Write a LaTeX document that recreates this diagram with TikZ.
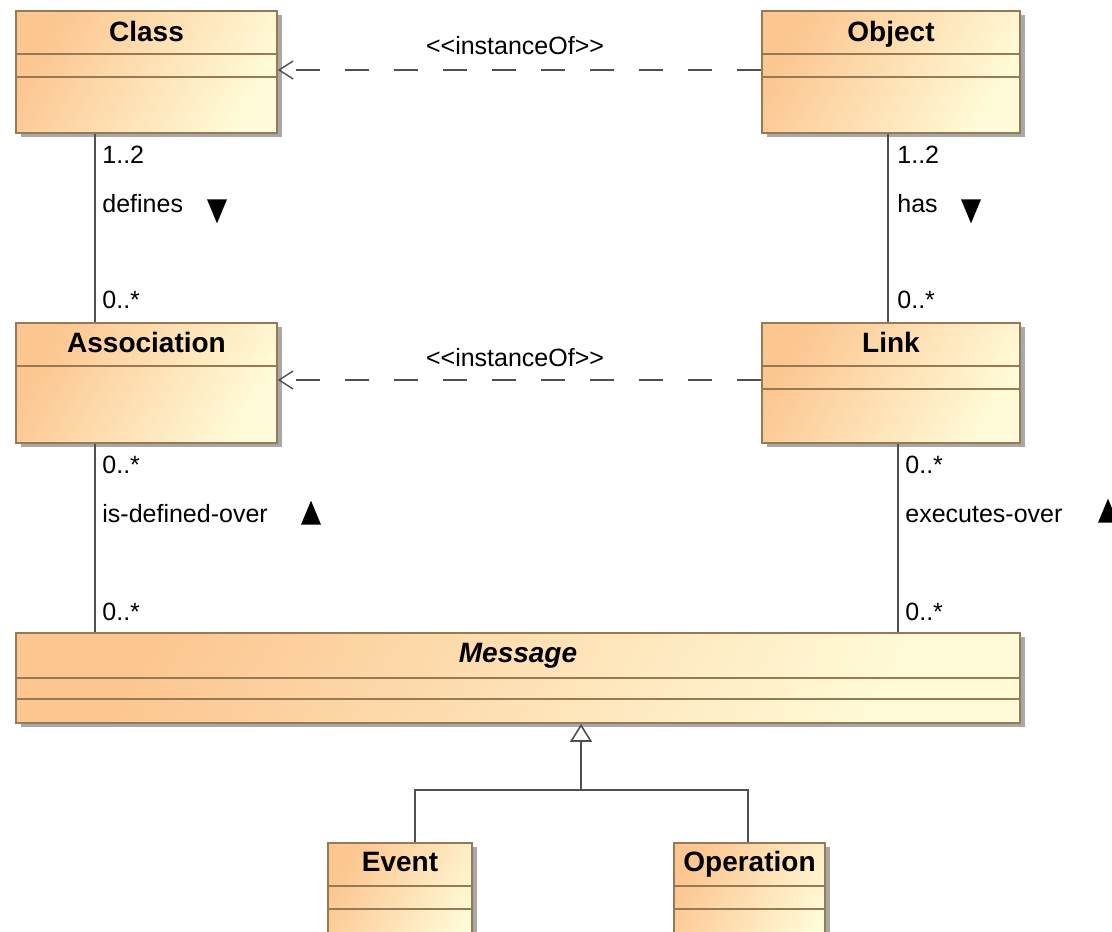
\documentclass[tikz,border=0pt]{standalone}
\usepackage{fontspec}
\setmainfont{Liberation Sans}
\usepackage{xcolor}
\usepackage{tikz}
\usetikzlibrary{shapes.geometric,arrows.meta,shadows,calc}
\definecolor{umlDeep}{RGB}{252,198,144}
\definecolor{umlPale}{RGB}{255,251,216}
\definecolor{umlEdge}{RGB}{150,122,84}
\definecolor{umlShadow}{RGB}{168,168,168}
\definecolor{umlLine}{RGB}{80,80,80}
\tikzset{
  umlbox/.style={rectangle, draw=umlEdge, line width=0.8pt, top color=umlDeep, bottom color=umlPale,
    shading angle=60, inner sep=0pt,
    drop shadow={shadow xshift=2.4pt, shadow yshift=-2.2pt, fill=umlShadow, opacity=1}},
  umlname/.style={anchor=base, inner sep=0pt, font=\bfseries\fontsize{14}{16}\selectfont},
  umlabstract/.style={umlname, font=\bfseries\itshape\fontsize{14}{16}\selectfont},
  umldiv/.style={draw=umlEdge, line width=0.8pt},
  umlassoc/.style={draw=umlLine, line width=0.8pt},
  rolelabel/.style={anchor=base west, inner sep=0pt, font=\fontsize{12.5}{14}\selectfont},
  stereolabel/.style={anchor=base, inner sep=0pt, font=\fontsize{12.5}{14}\selectfont},
  instanceof/.style={-{Straight Barb[length=7pt,width=9pt]}, draw=umlLine, line width=0.7pt,
    dash pattern=on 12pt off 12.5pt},
  genarrow/.style={-{Triangle[open,length=9pt,width=11pt]}, draw=umlLine, line width=0.8pt},
  navtri/.style={isosceles triangle, isosceles triangle stretches, fill=black, draw=none,
    minimum width=10pt, minimum height=12pt, inner sep=0pt},
  navdown/.style={navtri, shape border rotate=-90},
  navup/.style={navtri, shape border rotate=90},
}
\begin{document}
\begin{tikzpicture}[x=0.5pt,y=-0.5pt]
  \useasboundingbox (0,0) rectangle (1112,931);
  \clip (0,0) rectangle (1112,931);

  % --- Class / Object row ---
  \node[umlbox, minimum width=130.5pt, minimum height=61pt] (class) at (146.5,72) {};
  \node[umlbox, minimum width=129pt, minimum height=61pt] (object) at (891,72) {};
  \node[umlname] (classname) at ([yshift=-15.5pt]class.north) {Class};
  \node[umlname] (objectname) at ([yshift=-15.5pt]object.north) {Object};

  % --- Association / Link row ---
  \node[umlbox, minimum width=130.5pt, minimum height=60pt] (assoc) at (146.5,383) {};
  \node[umlbox, minimum width=129pt, minimum height=60pt] (link) at (891,383) {};
  \node[umlname] (assocname) at ([yshift=-15pt]assoc.north) {Association};
  \node[umlname] (linkname) at ([yshift=-15pt]link.north) {Link};

  % --- Message and its subclasses ---
  \node[umlbox, minimum width=502pt, minimum height=45pt] (message) at (518,678) {};
  \node[umlabstract] (messagename) at ([yshift=-15pt]message.north) {Message};
  \node[umlbox, minimum width=72pt, minimum height=60pt] (event) at (400,903) {};
  \node[umlbox, minimum width=75.5pt, minimum height=60pt] (operation) at (749.5,903) {};
  \node[umlname] (eventname) at ([yshift=-14.5pt]event.north) {Event};
  \node[umlname] (operationname) at ([yshift=-14.5pt]operation.north) {Operation};

  % --- Compartments ---
  \foreach \cls in {class,object,link,event,operation} {
    \draw[umldiv] ([yshift=-22pt]\cls.north west) -- ([yshift=-22pt]\cls.north east);
    \draw[umldiv] ([yshift=-33.5pt]\cls.north west) -- ([yshift=-33.5pt]\cls.north east);
  }
  \draw[umldiv] ([yshift=-23pt]message.north west) -- ([yshift=-23pt]message.north east);
  \draw[umldiv] ([yshift=-33.5pt]message.north west) -- ([yshift=-33.5pt]message.north east);
  \draw[umldiv] ([yshift=-22pt]assoc.north west) -- ([yshift=-22pt]assoc.north east);

  % --- instanceOf dependencies ---
  \draw[instanceof] ([yshift=1pt]object.west) -- ([yshift=1pt]class.east);
  \node[stereolabel] (inst1) at (515,55) {{<}{<}instanceOf{>}{>}};
  \draw[instanceof] ([yshift=1.5pt]link.west) -- ([yshift=1.5pt]assoc.east);
  \node[stereolabel] (inst2) at (515,366) {{<}{<}instanceOf{>}{>}};

  % --- Associations ---
  \draw[umlassoc] ([xshift=40pt]class.south west) -- ([xshift=40pt]assoc.north west);
  \node[rolelabel] (defsrc) at (102,163) {1..2};
  \node[rolelabel] (defname) at (102,212) {defines};
  \node[navdown] (defdir) at (217,206) {};
  \node[rolelabel] (deftgt) at (102,308) {0..*};

  \draw[umlassoc] ([xshift=63.5pt]object.south west) -- ([xshift=63.5pt]link.north west);
  \node[rolelabel] (hassrc) at (897,163) {1..2};
  \node[rolelabel] (hasname) at (897,212) {has};
  \node[navdown] (hasdir) at (971,206) {};
  \node[rolelabel] (hastgt) at (897,308) {0..*};

  \draw[umlassoc] ([xshift=40pt]assoc.south west) -- ([xshift=40pt]message.north west);
  \node[rolelabel] (overtop) at (102,473) {0..*};
  \node[rolelabel] (overname) at (102,522) {is-defined-over};
  \node[navup] (overdir) at (311,518) {};
  \node[rolelabel] (overbot) at (102,620) {0..*};

  \draw[umlassoc] ([xshift=68.5pt]link.south west) -- ([xshift=441.5pt]message.north west);
  \node[rolelabel] (exectop) at (905,473) {0..*};
  \node[rolelabel] (execname) at (905,522) {executes-over};
  \node[navup] (execdir) at (1108,516) {};
  \node[rolelabel] (execbot) at (905,620) {0..*};

  % --- Generalization ---
  \coordinate (genfork) at (581,790);
  \draw[umlassoc] ([xshift=7.5pt]event.north) |- (genfork);
  \draw[umlassoc] ([xshift=-0.75pt]operation.north) |- (genfork);
  \draw[genarrow] (genfork) -- (genfork |- message.south);
\end{tikzpicture}
\end{document}
